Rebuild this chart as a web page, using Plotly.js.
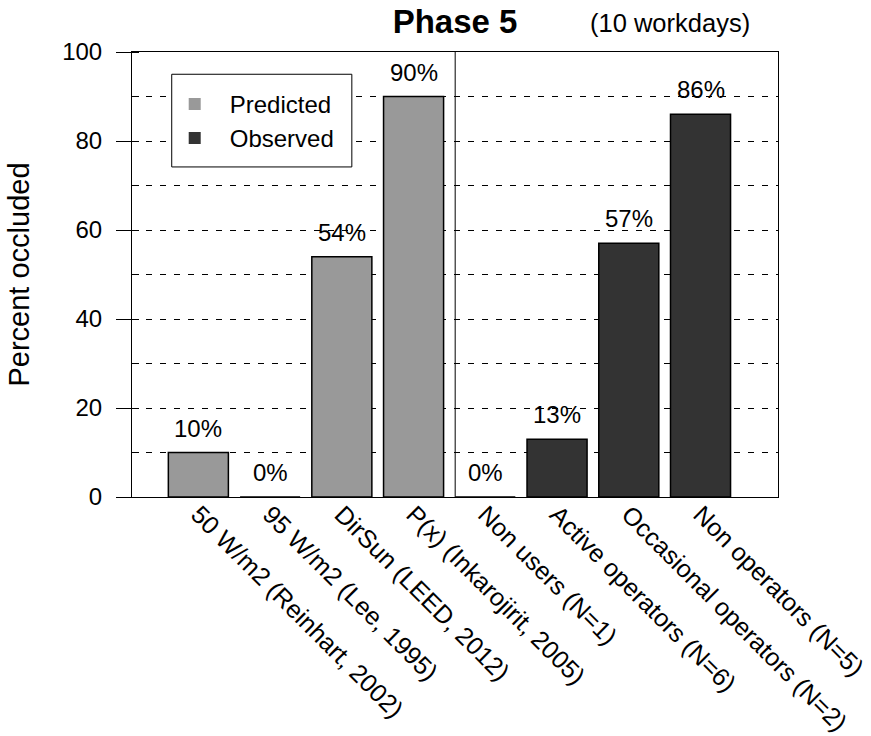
<!DOCTYPE html>
<html>
<head>
<meta charset="utf-8">
<script src="https://cdn.plot.ly/plotly-3.0.1.min.js"></script>
<style>html,body{margin:0;padding:0;background:#fff;}#chart{width:871px;height:736px;}</style>
</head>
<body>
<div id="chart"></div>
<script>
const categories = [
  "50 W/m2 (Reinhart, 2002)",
  "95 W/m2 (Lee, 1995)",
  "DirSun (LEED, 2012)",
  "P(x) (Inkarojirit, 2005)",
  "Non users (N=1)",
  "Active operators (N=6)",
  "Occasional operators (N=2)",
  "Non operators (N=5)"
];
const predictedCats = categories.slice(0, 4);
const predictedValues = [10, 0, 54, 90];
const observedCats = categories.slice(4);
const observedValues = [0, 13, 57, 86];
const seriesNames = ["Predicted", "Observed"];
const yTicks = [0, 20, 40, 60, 80, 100];

const FONT = "Liberation Sans, Arial, Helvetica, sans-serif";
const predColor = "#999999";
const obsColor = "#333333";

const traces = [
  {type: "bar", x: predictedCats, y: predictedValues, width: 0.837, showlegend: false,
   marker: {color: predColor, line: {color: "#000", width: 1.5}}, hoverinfo: "x+y"},
  {type: "bar", x: observedCats, y: observedValues, width: 0.837, showlegend: false,
   marker: {color: obsColor, line: {color: "#000", width: 1.5}}, hoverinfo: "x+y"},
  {type: "scatter", mode: "markers", x: [null], y: [null], name: seriesNames[0], yaxis: "y2",
   marker: {symbol: "square", size: 12, color: predColor, line: {width: 0}}},
  {type: "scatter", mode: "markers", x: [null], y: [null], name: seriesNames[1], yaxis: "y2",
   marker: {symbol: "square", size: 12, color: obsColor, line: {width: 0}}}
];

const valueAnnotations = [];
predictedCats.forEach((c, i) => valueAnnotations.push({x: c, y: predictedValues[i], text: predictedValues[i] + "%"}));
observedCats.forEach((c, i) => valueAnnotations.push({x: c, y: observedValues[i], text: observedValues[i] + "%"}));
const annotations = valueAnnotations.map(a => ({
  x: a.x, y: a.y, xref: "x", yref: "y", text: a.text, showarrow: false,
  yanchor: "bottom", yshift: 9, font: {family: FONT, size: 24, color: "#000"}
}));
annotations.push({
  xref: "paper", yref: "paper", x: 0.833, y: 1.0644, text: "(10 workdays)", showarrow: false,
  xanchor: "center", yanchor: "middle", font: {family: FONT, size: 25.5, color: "#000"}
});

const layout = {
  width: 871, height: 736,
  margin: {l: 132, r: 93, t: 52, b: 239},
  paper_bgcolor: "#fff", plot_bgcolor: "#fff",
  font: {family: FONT, color: "#000"},
  barmode: "overlay",
  title: {text: "<b>Phase 5</b>", font: {family: FONT, size: 33, color: "#000"},
          x: 0.5, xref: "paper", xanchor: "center", y: 0.9715, yref: "container", yanchor: "middle"},
  xaxis: {
    type: "category", categoryarray: categories, categoryorder: "array",
    range: [-0.925, 8.08], showgrid: false, zeroline: false,
    showline: true, mirror: true, linecolor: "#000", linewidth: 1,
    ticks: "", tickangle: 45, ticklabelstandoff: -8,
    tickfont: {family: FONT, size: 25, color: "#000"}
  },
  yaxis: {
    range: [0, 100], tickvals: yTicks, ticktext: yTicks.map(String),
    showline: true, mirror: true, linecolor: "#000", linewidth: 1, zeroline: false,
    ticks: "outside", ticklen: 15, tickcolor: "#000", tickwidth: 1,
    ticklabelstandoff: 9,
    tickfont: {family: FONT, size: 24, color: "#000"},
    showgrid: true, gridcolor: "#000", gridwidth: 1, griddash: "6px,8px",
    minor: {dtick: 10, tick0: 0, showgrid: true, gridcolor: "#000", gridwidth: 1, griddash: "6px,8px",
            ticks: "inside", ticklen: 7, tickcolor: "#000", tickwidth: 1},
    title: {text: "Percent occluded", font: {family: FONT, size: 29, color: "#000"}, standoff: 24}
  },
  yaxis2: {
    overlaying: "y", side: "left", anchor: "x", range: [0, 100], tickvals: yTicks,
    showticklabels: false, ticks: "inside", ticklen: 7, tickcolor: "#000", tickwidth: 1,
    showgrid: false, zeroline: false, showline: false
  },
  shapes: [
    {type: "line", xref: "x", yref: "paper", x0: 3.58, x1: 3.58, y0: 0, y1: 1,
     line: {color: "#000", width: 1}},
    {type: "rect", xref: "paper", yref: "paper", x0: 0.0615, x1: 0.3403, y0: 0.7417, y1: 0.950,
     line: {color: "#000", width: 1}, fillcolor: "#fff", layer: "above"}
  ],
  legend: {x: 0.0429, y: 0.933, xanchor: "left", yanchor: "top", bgcolor: "rgba(0,0,0,0)",
           borderwidth: 0, itemwidth: 60, font: {family: FONT, size: 24, color: "#000"}},
  annotations: annotations
};

Plotly.newPlot("chart", traces, layout, {displayModeBar: false, staticPlot: true});
</script>
</body>
</html>
